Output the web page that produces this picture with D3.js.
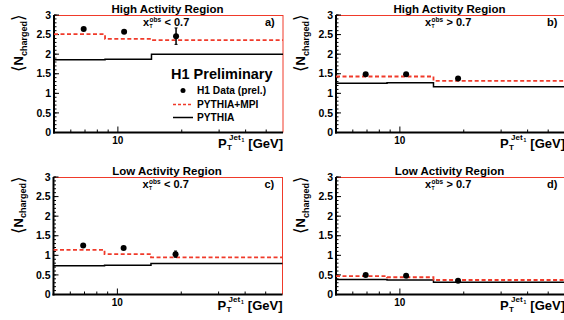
<!DOCTYPE html>
<html><head><meta charset="utf-8">
<script src="https://cdn.jsdelivr.net/npm/d3@7"></script>
<style>
html,body{margin:0;padding:0;background:#fff;}
svg text{font-family:"Liberation Sans",Arial,Helvetica,sans-serif;font-weight:bold;}
</style></head>
<body>
<svg id="c" width="564" height="320"></svg>
<script>
// ---- data ----
const binEdges = [5, 8.7, 14.4, 60];
const dataX = [6.9, 10.7, 18.8];
const panelIds = ["a", "b", "c", "d"];
const panelTitles = ["High Activity Region", "High Activity Region", "Low Activity Region", "Low Activity Region"];
const panelCuts = ["< 0.7", "> 0.7", "< 0.7", "> 0.7"];
const dataA = [2.64, 2.57, 2.46], errA = [0.05, 0.05, 0.21], mpiA = [2.51, 2.39, 2.36], pyA = [1.86, 1.87, 2.0];
const dataB = [1.49, 1.49, 1.38], errB = [0.03, 0.03, 0.03], mpiB = [1.43, 1.43, 1.32], pyB = [1.26, 1.27, 1.17];
const dataC = [1.25, 1.19, 1.03], errC = [0.03, 0.03, 0.08], mpiC = [1.14, 1.03, 0.95], pyC = [0.735, 0.75, 0.79];
const dataD = [0.50, 0.48, 0.35], errD = [0.02, 0.02, 0.03], mpiD = [0.47, 0.44, 0.37], pyD = [0.385, 0.37, 0.31];
const yTicks = [0, 0.5, 1, 1.5, 2, 2.5, 3];
const xMajorTicks = [10];
const xMinorTicks = [6, 7, 8, 9, 20, 30, 40, 50];
const legendLabels = ["H1 Data (prel.)", "PYTHIA+MPI", "PYTHIA"];

const series = [
  {data: dataA, err: errA, mpi: mpiA, py: pyA},
  {data: dataB, err: errB, mpi: mpiB, py: pyB},
  {data: dataC, err: errC, mpi: mpiC, py: pyC},
  {data: dataD, err: errD, mpi: mpiD, py: pyD}
];
const layout = [
  {left: 54, top: 15},
  {left: 336, top: 15},
  {left: 53.5, top: 177},
  {left: 336, top: 177}
];
const W = 229, H = 117.5;
const RED = "#f03a2a";

const svg = d3.select("#c");

series.forEach((s, i) => {
  const L = layout[i];
  const g = svg.append("g").attr("transform", `translate(${L.left},${L.top})`);
  const x = d3.scaleLog().domain([binEdges[0], binEdges[binEdges.length - 1]]).range([0, W]);
  const y = d3.scaleLinear().domain([0, 3]).range([H, 0]);

  // frame: red top & right
  g.append("line").attr("x1", 0).attr("x2", W).attr("y1", 0.5).attr("y2", 0.5).attr("stroke", RED).attr("stroke-width", 1);
  g.append("line").attr("x1", W).attr("x2", W).attr("y1", 0).attr("y2", H).attr("stroke", RED).attr("stroke-width", 1);

  // y axis ticks (inside)
  const yMinor = d3.range(0, 3.0001, 0.1);
  g.selectAll(".ymin").data(yMinor).enter().append("line")
    .attr("x1", 0).attr("x2", 2.5).attr("y1", d => y(d)).attr("y2", d => y(d))
    .attr("stroke", "#000").attr("stroke-width", 1);
  g.selectAll(".ymaj").data(yTicks).enter().append("line")
    .attr("x1", 0).attr("x2", 5).attr("y1", d => y(d)).attr("y2", d => y(d))
    .attr("stroke", "#000").attr("stroke-width", 1);
  g.selectAll(".ylab").data(yTicks).enter().append("text")
    .attr("x", -3).attr("y", d => y(d) + 3.6).attr("text-anchor", "end")
    .attr("font-size", 10.5).text(d => d3.format("")(d));

  // x axis ticks (inside)
  g.selectAll(".xmin").data(xMinorTicks).enter().append("line")
    .attr("x1", d => x(d)).attr("x2", d => x(d)).attr("y1", H).attr("y2", H - 3)
    .attr("stroke", "#000").attr("stroke-width", 1);
  g.selectAll(".xmaj").data(xMajorTicks).enter().append("line")
    .attr("x1", d => x(d)).attr("x2", d => x(d)).attr("y1", H).attr("y2", H - 6)
    .attr("stroke", "#000").attr("stroke-width", 1);
  g.selectAll(".xlab").data(xMajorTicks).enter().append("text")
    .attr("x", d => x(d)).attr("y", H + 11).attr("text-anchor", "middle")
    .attr("font-size", 10).text(d => d);

  // axis lines
  g.append("line").attr("x1", 0).attr("x2", 0).attr("y1", 0).attr("y2", H + 1).attr("stroke", "#000").attr("stroke-width", 2);
  g.append("line").attr("x1", -1).attr("x2", W).attr("y1", H).attr("y2", H).attr("stroke", "#000").attr("stroke-width", 2);

  // histograms
  const stepPts = vals => {
    const pts = vals.map((v, k) => [binEdges[k], v]);
    pts.push([binEdges[binEdges.length - 1], vals[vals.length - 1]]);
    return pts;
  };
  const line = d3.line().x(d => x(d[0])).y(d => y(d[1])).curve(d3.curveStepAfter);
  g.append("path").attr("d", line(stepPts(s.py))).attr("fill", "none").attr("stroke", "#000").attr("stroke-width", 1.5);
  g.append("path").attr("d", line(stepPts(s.mpi))).attr("fill", "none").attr("stroke", RED).attr("stroke-width", 1.8).attr("stroke-dasharray", "4,2.5");

  // data points
  s.data.forEach((v, k) => {
    const e = s.err[k];
    const cx = x(dataX[k]);
    g.append("line").attr("x1", cx).attr("x2", cx).attr("y1", y(v + e)).attr("y2", y(v - e)).attr("stroke", "#000").attr("stroke-width", 1.5);
    if (e > 0.06) {
      [v + e, v - e].forEach(t => g.append("line").attr("x1", cx - 1.5).attr("x2", cx + 1.5).attr("y1", y(t)).attr("y2", y(t)).attr("stroke", "#000").attr("stroke-width", 1));
    }
    g.append("circle").attr("cx", cx).attr("cy", y(v)).attr("r", 3).attr("fill", "#000");
  });

  // title
  g.append("text").attr("x", W / 2 - 1).attr("y", -2.5).attr("text-anchor", "middle").attr("font-size", 11.5).text(panelTitles[i]);

  // cut label x_T^obs
  const cx0 = 89;
  g.append("text").attr("x", cx0).attr("y", 11).attr("font-size", 11).text("x");
  g.append("text").attr("x", cx0 + 6.5).attr("y", 6.5).attr("font-size", 6.5).text("obs");
  g.append("text").attr("x", cx0 + 6.5).attr("y", 13).attr("font-size", 5).text("T");
  g.append("text").attr("x", cx0 + 21.5).attr("y", 11).attr("font-size", 11).text(panelCuts[i]);

  // panel id
  g.append("text").attr("x", W - 18).attr("y", 11).attr("font-size", 11).text(panelIds[i] + ")");

  // x axis title
  const xtg = g.append("g").attr("transform", `translate(${W},${H + 15})`);
  xtg.append("text").attr("x", 0).attr("y", 0).attr("text-anchor", "end").attr("font-size", 13).text("[GeV]");
  xtg.append("text").attr("x", -65).attr("y", 0).attr("font-size", 13).text("P");
  xtg.append("text").attr("x", -56).attr("y", 2).attr("font-size", 8).text("T");
  xtg.append("text").attr("x", -54).attr("y", -7.5).attr("font-size", 8).text("Jet");
  xtg.append("text").attr("x", -41.5).attr("y", -6).attr("font-size", 5).text("1");

  // y axis title (rotated)
  const ytg = g.append("g").attr("transform", `translate(${-31},${-1}) rotate(-90)`);
  const yt = ytg.append("text").attr("x", 0).attr("y", 0).attr("text-anchor", "end");
  yt.append("tspan").attr("font-size", 17).attr("font-weight", "normal").attr("dy", 1).text("\u27E8");
  yt.append("tspan").attr("font-size", 13).attr("dy", -1).text("N");
  yt.append("tspan").attr("font-size", 9).attr("dy", 3.5).text("charged");
  yt.append("tspan").attr("font-size", 17).attr("font-weight", "normal").attr("dy", -2.5).text("\u27E9");

  // legend in panel a
  if (i === 0) {
    g.append("text").attr("x", 117).attr("y", 64).attr("font-size", 14.5).text("H1 Preliminary");
    g.append("circle").attr("cx", 129).attr("cy", 75.5).attr("r", 2.5).attr("fill", "#000");
    g.append("text").attr("x", 143).attr("y", 79).attr("font-size", 10.2).text(legendLabels[0]);
    g.append("line").attr("x1", 119).attr("x2", 139).attr("y1", 89.5).attr("y2", 89.5).attr("stroke", RED).attr("stroke-width", 1.5).attr("stroke-dasharray", "3,2");
    g.append("text").attr("x", 143).attr("y", 93).attr("font-size", 10.2).text(legendLabels[1]);
    g.append("line").attr("x1", 119).attr("x2", 139).attr("y1", 102.5).attr("y2", 102.5).attr("stroke", "#000").attr("stroke-width", 1.5);
    g.append("text").attr("x", 143).attr("y", 106).attr("font-size", 10.2).text(legendLabels[2]);
  }
});
</script>
</body></html>
